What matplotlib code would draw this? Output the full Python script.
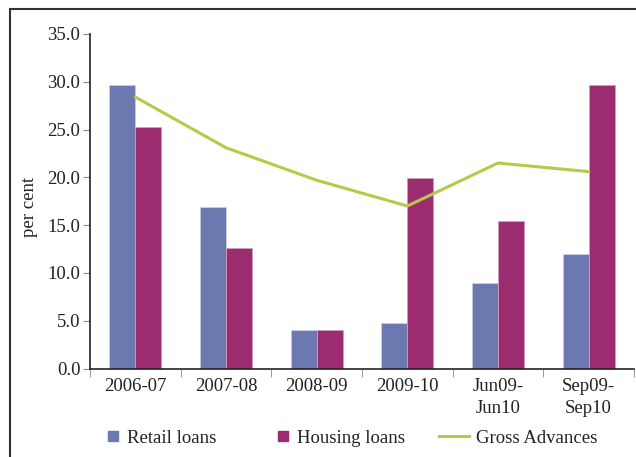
import matplotlib.pyplot as plt
import numpy as np
from matplotlib.patches import Rectangle
from matplotlib.lines import Line2D

plt.rcParams['font.family'] = ['Liberation Serif', 'DejaVu Serif']

periods = ["2006-07", "2007-08", "2008-09", "2009-10", "Jun09-\nJun10", "Sep09-\nSep10"]
retail = [29.7, 16.9, 4.0, 4.8, 8.9, 12.0]
housing = [25.3, 12.6, 4.0, 19.9, 15.4, 29.7]
gross = [28.4, 23.1, 19.7, 17.0, 21.5, 20.6]

c_retail = "#6c79b0"
c_housing = "#9b2c70"
c_gross = "#b8c94a"
txt = "#222222"

fig = plt.figure(figsize=(6.36, 4.57), dpi=100)
ax = fig.add_axes([90 / 636, 1 - 368.5 / 457, 544 / 636, 334.5 / 457])

# outer frame, only top and left edges fall inside the image
fig.patches.append(Rectangle((10 / 636, -0.1), 1.2, (1 - 9 / 457) + 0.1,
                             transform=fig.transFigure, fill=False,
                             edgecolor="#333333", linewidth=1.5))

x = np.arange(len(periods))
w = 0.287
ax.bar(x - w / 2, retail, w, color=c_retail, edgecolor="#c9cde6", linewidth=0.6)
ax.bar(x + w / 2, housing, w, color=c_housing, edgecolor="#d39bbb", linewidth=0.6)
ax.plot(x, gross, color=c_gross, linewidth=2.2)

ax.set_xlim(-0.5, len(periods) - 0.5)
ax.set_ylim(0, 35)
yt = np.arange(0, 35.1, 5)
ax.set_yticks(yt)
ax.set_yticklabels([f"{v:.1f}" for v in yt], fontsize=13.5, color=txt)
ax.set_xticks(x)
ax.set_xticklabels(periods, fontsize=13.5, color=txt, linespacing=1.35, va="top")
ax.tick_params(axis="x", length=0, pad=7)
ax.set_xticks(np.arange(-0.5, len(periods)), minor=True)
ax.tick_params(axis="x", which="minor", length=6, color="#888888", direction="out")
ax.tick_params(axis="y", length=5, color="#888888", direction="out", pad=2)

for s in ["top", "right"]:
    ax.spines[s].set_visible(False)
for s in ["left", "bottom"]:
    ax.spines[s].set_color(txt)
    ax.spines[s].set_linewidth(1.2)

fig.text(30 / 636, 1 - 207 / 457, "per cent", rotation=90, fontsize=13.5,
         color=txt, ha="center", va="center")

# legend entries placed one by one along the bottom
entries = [
    (Line2D([0], [0], marker="s", linestyle="none", markersize=7, color=c_retail),
     "Retail loans", 105, 0.8),
    (Line2D([0], [0], marker="s", linestyle="none", markersize=7, color=c_housing),
     "Housing loans", 275, 0.8),
    (Line2D([0], [0], color=c_gross, linewidth=2.2), "Gross Advances", 439, 1.6),
]
for h, lab, xl, hl in entries:
    leg = fig.legend([h], [lab], loc="center left", bbox_to_anchor=(xl / 636, 1 - 438 / 457),
                     frameon=False, fontsize=13.5, handlelength=hl, handletextpad=0.35,
                     borderpad=0, borderaxespad=0, labelcolor=txt)

fig.savefig("out.png", dpi=100)
